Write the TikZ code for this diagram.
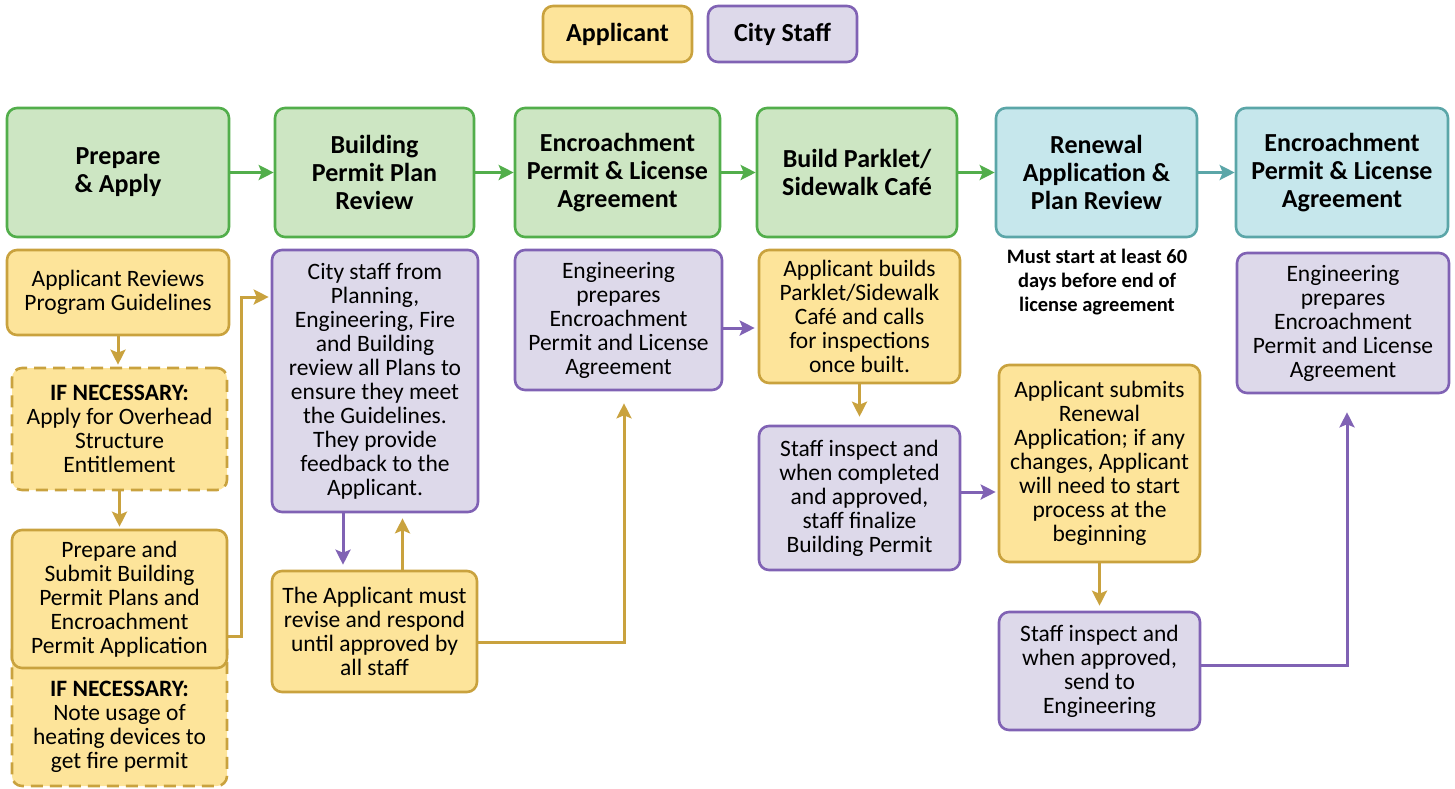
\documentclass[tikz,border=0pt]{standalone}
\usepackage{fontspec}
\setmainfont{Carlito}
\usepackage{tikz}
\usetikzlibrary{arrows.meta}

\definecolor{greenfill}{HTML}{CDE6C3}
\definecolor{greenline}{HTML}{52AE4B}
\definecolor{tealfill}{HTML}{C6E7EC}
\definecolor{tealline}{HTML}{5BA6A8}
\definecolor{goldfill}{HTML}{FDE49A}
\definecolor{goldline}{HTML}{C9A23E}
\definecolor{purplefill}{HTML}{DDD9EA}
\definecolor{purpleline}{HTML}{8062B4}

\newcommand{\bodyfont}{\fontsize{23.5}{24}\selectfont}
\newcommand{\headfont}{\fontsize{26}{28}\selectfont\bfseries}

\tikzset{
  box/.style={rectangle, rounded corners=10pt, line width=2.6pt, align=center, inner sep=2pt},
  headbox/.style={box, draw=greenline, fill=greenfill, font=\headfont},
  renewbox/.style={headbox, draw=tealline, fill=tealfill},
  appbox/.style={box, draw=goldline, fill=goldfill, font=\bodyfont},
  staffbox/.style={box, draw=purpleline, fill=purplefill, font=\bodyfont},
  maybebox/.style={appbox, dash pattern=on 12pt off 7pt},
  flow/.style={line width=3pt, -{Stealth[length=15pt,width=15pt,inset=3pt]}},
  greenflow/.style={flow, greenline},
  tealflow/.style={flow, tealline},
  appflow/.style={flow, goldline},
  staffflow/.style={flow, purpleline}
}

\begin{document}
\begin{tikzpicture}[x=1pt,y=-1pt]
  \useasboundingbox (0,0) rectangle (1455,788);

  \node[appbox, font=\headfont, minimum width=149pt, minimum height=56pt] (lapp) at (617.5,34) {Applicant};
  \node[staffbox, font=\headfont, minimum width=149pt, minimum height=56pt] (lstaff) at (782.5,34) {City Staff};

  \node[headbox, minimum width=222pt, minimum height=129pt] (prep) at (118,172.5) {Prepare\\ \& Apply};
  \node[headbox, minimum width=199pt, minimum height=129pt] (plan) at (374.5,172.5) {Building\\ Permit Plan\\ Review};
  \node[headbox, minimum width=205pt, minimum height=129pt] (encr) at (617.5,172.5) {Encroachment\\ Permit \& License\\ Agreement};
  \node[headbox, minimum width=200pt, minimum height=129pt] (build) at (857,172.5) {Build Parklet/\\ Sidewalk Café};
  \node[renewbox, minimum width=201pt, minimum height=129pt] (renew) at (1096.5,172.5) {Renewal\\ Application \&\\ Plan Review};
  \node[renewbox, minimum width=212pt, minimum height=129pt] (encrtwo) at (1342,172.5) {Encroachment\\ Permit \& License\\ Agreement};

  \foreach \a/\b in {prep/plan, plan/encr, encr/build, build/renew}
    \draw[greenflow] (\a.east) -- (\b.west);
  \draw[tealflow] (renew.east) -- (encrtwo.west);

  \node[appbox, minimum width=222pt, minimum height=85pt] (guide) at (118,292.5) {Applicant Reviews\\ Program Guidelines};
  \node[maybebox, minimum width=215pt, minimum height=122pt] (overhead) at (119.5,429) {\textbf{IF NECESSARY:}\\ Apply for Overhead\\ Structure\\ Entitlement};
  \node[maybebox, minimum width=215pt, minimum height=146pt] (fire) at (119.5,713) {};
  \node[font=\bodyfont, align=center] (firetext) at (119.5,727) {\textbf{IF NECESSARY:}\\ Note usage of\\ heating devices to\\ get fire permit};
  \node[appbox, minimum width=215pt, minimum height=138pt] (submit) at (119.5,599) {Prepare and\\ Submit Building\\ Permit Plans and\\ Encroachment\\ Permit Application};

  \node[staffbox, minimum width=206pt, minimum height=262pt] (review) at (375,381) {City staff from\\ Planning,\\ Engineering, Fire\\ and Building\\ review all Plans to\\ ensure they meet\\ the Guidelines.\\ They provide\\ feedback to the\\ Applicant.};
  \node[appbox, minimum width=205pt, minimum height=121pt] (revise) at (374.5,631.5) {The Applicant must\\ revise and respond\\ until approved by\\ all staff};
  \node[staffbox, minimum width=207pt, minimum height=140pt] (engprep) at (618.5,320) {Engineering\\ prepares\\ Encroachment\\ Permit and License\\ Agreement};
  \node[appbox, minimum width=201pt, minimum height=133pt] (appbuild) at (859.5,316.5) {Applicant builds\\ Parklet/Sidewalk\\ Café and calls\\ for inspections\\ once built.};
  \node[staffbox, minimum width=201pt, minimum height=144pt] (inspect) at (859.5,498) {Staff inspect and\\ when completed\\ and approved,\\ staff finalize\\ Building Permit};
  \node[align=center, font=\fontsize{20.5}{24}\selectfont\bfseries] (note) at (1097,282) {Must start at least 60\\ days before end of\\ license agreement};
  \node[appbox, minimum width=201pt, minimum height=197pt] (renewapp) at (1099.5,463.5) {Applicant submits\\ Renewal\\ Application; if any\\ changes, Applicant\\ will need to start\\ process at the\\ beginning};
  \node[staffbox, minimum width=201pt, minimum height=118pt] (inspecttwo) at (1099.5,671) {Staff inspect and\\ when approved,\\ send to\\ Engineering};
  \node[staffbox, minimum width=212pt, minimum height=140pt] (engpreptwo) at (1343,323) {Engineering\\ prepares\\ Encroachment\\ Permit and License\\ Agreement};

  \draw[appflow, shorten >=2pt] (guide.south) -- (guide.south |- overhead.north);
  \draw[appflow, shorten >=2pt] (overhead.south) -- (submit.north);
  \draw[appflow, shorten >=2pt] ([yshift=-37pt]submit.east) -| ([xshift=-29pt,yshift=84pt]review.west) -- ([yshift=84pt]review.west);
  \draw[staffflow, shorten >=5pt] ([xshift=-32pt]review.south) -- ([xshift=-32pt]review.south |- revise.north);
  \draw[appflow, shorten >=5pt] ([xshift=28pt]revise.north) -- ([xshift=28pt]revise.north |- review.south);
  \draw[appflow, shorten >=12pt] ([yshift=-10.5pt]revise.east) -| ([xshift=5.5pt]engprep.south);
  \draw[staffflow, shorten >=3pt] ([yshift=-8pt]engprep.east) -- ([yshift=-8pt]engprep.east -| appbuild.west);
  \draw[appflow, shorten >=8pt] (appbuild.south) -- (inspect.north);
  \draw[staffflow, shorten >=2pt] ([yshift=6pt]inspect.east) -- ([yshift=6pt]inspect.east -| renewapp.west);
  \draw[appflow, shorten >=5pt] (renewapp.south) -- (inspecttwo.north);
  \draw[staffflow, shorten >=18pt] ([yshift=6pt]inspecttwo.east) -| ([xshift=4pt]engpreptwo.south);
\end{tikzpicture}
\end{document}
